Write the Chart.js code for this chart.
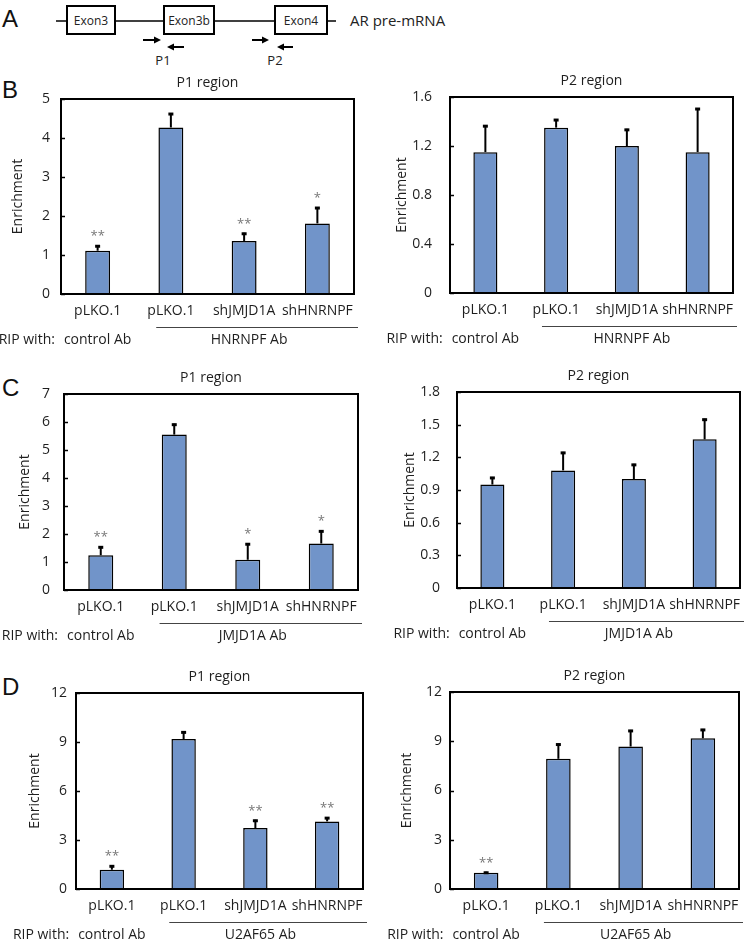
<!DOCTYPE html>
<html>
<head>
<meta charset="utf-8">
<script src="https://cdn.jsdelivr.net/npm/chart.js@4.4.1/dist/chart.umd.min.js"></script>
<style>
    body { margin: 0; background: #fff; width: 754px; height: 945px; position: relative; overflow: hidden; }
    canvas { position: absolute; }
    svg { position: absolute; left: 0; top: 0; }
</style>
</head>
<body>
<svg width="754" height="945" font-family="'Open Sans', sans-serif">
    <!-- panel letters -->
    <g font-family="'Liberation Sans', Arial, sans-serif" font-size="24" fill="#111">
        <text x="2" y="27">A</text>
        <text x="2" y="98">B</text>
        <text x="2" y="396">C</text>
        <text x="2" y="695">D</text>
    </g>
    <!-- AR pre-mRNA diagram -->
    <line x1="56" y1="21" x2="336" y2="21" stroke="#000" stroke-width="1.5"/>
    <rect x="67" y="6" width="48" height="28" fill="#fff" stroke="#000" stroke-width="2"/>
    <rect x="164" y="6" width="50" height="28" fill="#fff" stroke="#000" stroke-width="2"/>
    <rect x="275" y="6" width="52" height="28" fill="#fff" stroke="#000" stroke-width="2"/>
    <g font-size="12" fill="#222" text-anchor="middle">
        <text x="91" y="25">Exon3</text>
        <text x="189" y="25">Exon3b</text>
        <text x="301" y="25">Exon4</text>
    </g>
    <text x="350" y="26" font-size="15" fill="#222">AR pre-mRNA</text>
    <g stroke="#000" stroke-width="2" fill="#000">
        <line x1="143" y1="40" x2="156" y2="40"/><path d="M161 40 L154 36.5 L154 43.5 Z" stroke="none"/>
        <line x1="184" y1="47" x2="172" y2="47"/><path d="M167 47 L174 43.5 L174 50.5 Z" stroke="none"/>
        <line x1="252" y1="40" x2="264" y2="40"/><path d="M269 40 L262 36.5 L262 43.5 Z" stroke="none"/>
        <line x1="293" y1="47" x2="282" y2="47"/><path d="M277 47 L284 43.5 L284 50.5 Z" stroke="none"/>
    </g>
    <g font-size="13" fill="#222" text-anchor="middle">
        <text x="163" y="65">P1</text>
        <text x="275" y="65">P2</text>
    </g>
</svg>

<canvas id="bP1"></canvas>
<canvas id="bP2"></canvas>
<canvas id="cP1"></canvas>
<canvas id="cP2"></canvas>
<canvas id="dP1"></canvas>
<canvas id="dP2"></canvas>

<script>
(function () {
    "use strict";

    const categories = ["pLKO.1", "pLKO.1", "shJMJD1A", "shHNRNPF"];

    // B: HNRNPF RIP
    const bP1Values = [1.11, 4.27, 1.36, 1.81];
    const bP1Errors = [0.14, 0.37, 0.21, 0.42];
    const bP1Stars = ["**", "", "**", "*"];
    const bP1Ticks = [0, 1, 2, 3, 4, 5];

    const bP2Values = [1.15, 1.35, 1.2, 1.15];
    const bP2Errors = [0.22, 0.07, 0.14, 0.36];
    const bP2Stars = ["", "", "", ""];
    const bP2Ticks = [0, 0.4, 0.8, 1.2, 1.6];

    const bGroups = ["control Ab", "HNRNPF Ab"];

    // C: JMJD1A RIP
    const cP1Values = [1.24, 5.55, 1.08, 1.66];
    const cP1Errors = [0.32, 0.39, 0.59, 0.47];
    const cP1Stars = ["**", "", "*", "*"];
    const cP1Ticks = [0, 1, 2, 3, 4, 5, 6, 7];

    const cP2Values = [0.95, 1.08, 1.0, 1.365];
    const cP2Errors = [0.07, 0.17, 0.14, 0.19];
    const cP2Stars = ["", "", "", ""];
    const cP2Ticks = [0, 0.3, 0.6, 0.9, 1.2, 1.5, 1.8];

    const cGroups = ["control Ab", "JMJD1A Ab"];

    // D: U2AF65 RIP
    const dP1Values = [1.18, 9.18, 3.73, 4.14];
    const dP1Errors = [0.27, 0.47, 0.51, 0.26];
    const dP1Stars = ["**", "", "**", "**"];
    const dP1Ticks = [0, 3, 6, 9, 12];

    const dP2Values = [0.99, 7.93, 8.68, 9.18];
    const dP2Errors = [0.06, 0.93, 1.01, 0.57];
    const dP2Stars = ["**", "", "", ""];
    const dP2Ticks = [0, 3, 6, 9, 12];

    const dGroups = ["control Ab", "U2AF65 Ab"];

    const FONT = "'Open Sans', sans-serif";
    const BAR_COLOR = "#7194c9";
    const TEXT_COLOR = "#1e1e1e";

    // draws error bars, stars, the box, the title and the "RIP with" rows
    function decorPlugin(title, values, errors, stars, groups) {
        return {
            id: "ripDecor",
            afterDatasetsDraw(chart) {
                const ctx = chart.ctx;
                const { left, top, right, bottom } = chart.chartArea;
                const x = chart.scales.x;
                const y = chart.scales.y;
                const meta = chart.getDatasetMeta(0);
                ctx.save();

                ctx.strokeStyle = "#000";
                meta.data.forEach((bar, i) => {
                    const yTop = y.getPixelForValue(values[i] + errors[i]);
                    ctx.lineWidth = 2;
                    ctx.beginPath();
                    ctx.moveTo(bar.x, bar.y);
                    ctx.lineTo(bar.x, yTop);
                    ctx.stroke();
                    ctx.lineWidth = 3;
                    ctx.beginPath();
                    ctx.moveTo(bar.x - 2.5, yTop + 1);
                    ctx.lineTo(bar.x + 2.5, yTop + 1);
                    ctx.stroke();
                    if (stars[i]) {
                        ctx.fillStyle = "#777";
                        ctx.font = "13px " + FONT;
                        ctx.textAlign = "center";
                        ctx.textBaseline = "alphabetic";
                        ctx.fillText(stars[i], bar.x, yTop - 5);
                    }
                });

                // box with small inward ticks on the value axis
                ctx.lineWidth = 2;
                ctx.strokeRect(left, top, right - left, bottom - top);
                ctx.lineWidth = 1.5;
                y.ticks.forEach((t) => {
                    const py = Math.round(y.getPixelForValue(t.value)) + 0.5;
                    ctx.beginPath();
                    ctx.moveTo(left, py);
                    ctx.lineTo(left + 4, py);
                    ctx.stroke();
                });

                // title
                ctx.fillStyle = TEXT_COLOR;
                ctx.font = "14px " + FONT;
                ctx.textAlign = "center";
                ctx.textBaseline = "middle";
                ctx.fillText(title, (left + right) / 2, top - 16);

                // group line + RIP row
                const catW = x.getPixelForValue(1) - x.getPixelForValue(0);
                const lineY = bottom + 33.5;
                ctx.strokeStyle = "#444";
                ctx.lineWidth = 1;
                ctx.beginPath();
                ctx.moveTo(x.getPixelForValue(1) - 0.2 * catW, lineY);
                ctx.lineTo(right + 4, lineY);
                ctx.stroke();

                const rowY = bottom + 46;
                const x0 = x.getPixelForValue(0);
                ctx.fillText(groups[0], x0, rowY);
                ctx.fillText(groups[1], x.getPixelForValue(2) + 5, rowY);
                const w0 = ctx.measureText(groups[0]).width;
                ctx.textAlign = "right";
                ctx.fillText("RIP with:", x0 - w0 / 2 - 9, rowY);

                ctx.restore();
            },
        };
    }

    function makeChart(id, canvasBox, plotBox, spec) {
        const el = document.getElementById(id);
        el.width = canvasBox.w;
        el.height = canvasBox.h;
        el.style.left = canvasBox.x + "px";
        el.style.top = canvasBox.y + "px";
        el.style.width = canvasBox.w + "px";
        el.style.height = canvasBox.h + "px";

        const xHeight = 30;
        const yWidth = plotBox.l - canvasBox.x;

        return new Chart(el, {
            type: "bar",
            data: {
                labels: categories,
                datasets: [
                    {
                        data: spec.values,
                        backgroundColor: BAR_COLOR,
                        borderColor: "#000",
                        borderWidth: 1.5,
                        barPercentage: 0.34,
                        categoryPercentage: 1,
                    },
                ],
            },
            options: {
                responsive: false,
                animation: false,
                layout: {
                    padding: {
                        left: 0,
                        top: plotBox.t - canvasBox.y,
                        right: canvasBox.x + canvasBox.w - plotBox.r,
                        bottom: canvasBox.y + canvasBox.h - plotBox.b - xHeight,
                    },
                },
                plugins: {
                    legend: { display: false },
                    tooltip: { enabled: false },
                },
                scales: {
                    x: {
                        grid: { display: false, drawTicks: false },
                        border: { display: false },
                        ticks: {
                            font: { family: FONT, size: 14 },
                            color: TEXT_COLOR,
                            padding: 9,
                            maxRotation: 0,
                            autoSkip: false,
                        },
                        afterFit: (s) => { s.height = xHeight; },
                    },
                    y: {
                        min: 0,
                        max: spec.ticks[spec.ticks.length - 1],
                        afterBuildTicks: (s) => {
                            s.ticks = spec.ticks.map((v) => ({ value: v }));
                        },
                        ticks: {
                            font: { family: FONT, size: 14 },
                            color: TEXT_COLOR,
                            padding: spec.tickPad,
                            callback: (v) => String(v),
                        },
                        grid: { display: false, drawTicks: false },
                        border: { display: false },
                        title: {
                            display: true,
                            text: "Enrichment",
                            font: { family: FONT, size: 14 },
                            color: TEXT_COLOR,
                            padding: { top: spec.titlePad, bottom: 0 },
                        },
                        afterFit: (s) => { s.width = yWidth; },
                    },
                },
            },
            plugins: [decorPlugin(spec.title, spec.values, spec.errors, spec.stars, spec.groups)],
        });
    }

    makeChart("bP1", { x: 0, y: 66, w: 377, h: 284 }, { l: 61, t: 99, r: 354, b: 294 }, {
        title: "P1 region", values: bP1Values, errors: bP1Errors, stars: bP1Stars,
        ticks: bP1Ticks, groups: bGroups, tickPad: 11, titlePad: 10,
    });
    makeChart("bP2", { x: 377, y: 66, w: 377, h: 284 }, { l: 450, t: 97, r: 733, b: 293 }, {
        title: "P2 region", values: bP2Values, errors: bP2Errors, stars: bP2Stars,
        ticks: bP2Ticks, groups: bGroups, tickPad: 18, titlePad: 17,
    });
    makeChart("cP1", { x: 0, y: 362, w: 377, h: 286 }, { l: 64, t: 394, r: 358, b: 590 }, {
        title: "P1 region", values: cP1Values, errors: cP1Errors, stars: cP1Stars,
        ticks: cP1Ticks, groups: cGroups, tickPad: 14, titlePad: 17,
    });
    makeChart("cP2", { x: 377, y: 362, w: 377, h: 286 }, { l: 457, t: 392, r: 740, b: 588 }, {
        title: "P2 region", values: cP2Values, errors: cP2Errors, stars: cP2Stars,
        ticks: cP2Ticks, groups: cGroups, tickPad: 17, titlePad: 25,
    });
    makeChart("dP1", { x: 0, y: 660, w: 377, h: 285 }, { l: 76, t: 693, r: 363, b: 889 }, {
        title: "P1 region", values: dP1Values, errors: dP1Errors, stars: dP1Stars,
        ticks: dP1Ticks, groups: dGroups, tickPad: 9, titlePad: 27,
    });
    makeChart("dP2", { x: 377, y: 660, w: 377, h: 285 }, { l: 450, t: 692, r: 739, b: 889 }, {
        title: "P2 region", values: dP2Values, errors: dP2Errors, stars: dP2Stars,
        ticks: dP2Ticks, groups: dGroups, tickPad: 8, titlePad: 22,
    });
})();
</script>
</body>
</html>
